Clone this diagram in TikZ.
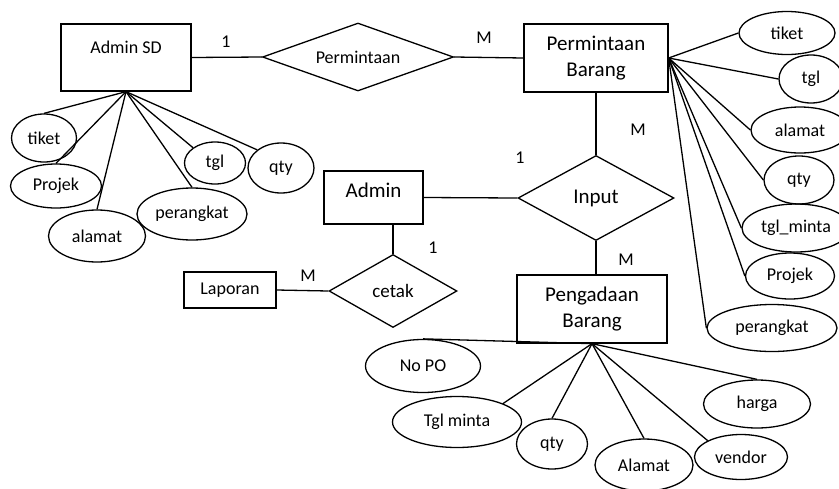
\documentclass[tikz,border=0pt]{standalone}
\usepackage{fontspec}
\setmainfont{Carlito}
\usetikzlibrary{shapes.geometric}

\begin{document}
\begin{tikzpicture}[x=1pt, y=-1pt, line width=1.3pt,
    entitas/.style={draw, rectangle, inner sep=0pt, align=center, font=\fontsize{21}{26}\selectfont},
    relasi/.style={draw, diamond, inner sep=0pt, font=\fontsize{21}{26}\selectfont},
    atribut/.style={draw, ellipse, inner sep=0pt, font=\fontsize{18}{22}\selectfont},
    kard/.style={font=\fontsize{18}{22}\selectfont}]
  \useasboundingbox (0,0) rectangle (839,488);

  % entitas
  \node[entitas, minimum width=130pt, minimum height=67pt, text height=13pt, text depth=22pt,
        font=\fontsize{18}{22}\selectfont] (adminsd) at (126,57.5) {Admin SD};
  \node[entitas, minimum width=144pt, minimum height=68pt] (pb) at (596,58) {Permintaan\\Barang};
  \node[entitas, minimum width=99pt, minimum height=53pt, text height=15pt, text depth=15pt] (admin) at (373.5,197.5) {Admin};
  \node[entitas, minimum width=92pt, minimum height=36pt, font=\fontsize{18}{22}\selectfont] (laporan) at (230,290) {Laporan};
  \node[entitas, minimum width=150pt, minimum height=68pt] (pg) at (592,309) {Pengadaan\\Barang};

  % relasi
  \node[relasi, aspect=2.8, minimum width=191pt, minimum height=68pt, font=\fontsize{18}{22}\selectfont] (minta) at (358,57) {Permintaan};
  \node[relasi, aspect=1.8, minimum width=156pt, minimum height=85pt] (input) at (596,198) {Input};
  \node[relasi, aspect=1.75, minimum width=128pt, minimum height=73pt, font=\fontsize{19}{22}\selectfont] (cetak) at (393,291) {cetak};

  \draw (adminsd.east) -- (minta.west);
  \draw (minta.east) -- (pb.west);
  \draw (pb.south) -- (input.north);
  \draw (admin.east) -- (input.west);
  \draw (cetak.north) -- (cetak.north |- admin.south);
  \draw (cetak.west) -- (laporan.east);
  \draw (input.south) -- (input.south |- pg.north);

  % kardinalitas
  \node[kard] (k1) at (226,42) {1};
  \node[kard] (k2) at (484,38) {M};
  \node[kard] (k3) at (638,130) {M};
  \node[kard] (k4) at (520,158) {1};
  \node[kard] (k5) at (433,248) {1};
  \node[kard] (k6) at (308,276) {M};
  \node[kard] (k7) at (626,260) {M};

  % atribut Admin SD
  \node[atribut, minimum width=65pt, minimum height=48pt] (tiket1) at (44,138) {tiket};
  \node[atribut, minimum width=91pt, minimum height=44pt] (projek1) at (56,186) {Projek};
  \node[atribut, minimum width=97pt, minimum height=52pt] (alamat1) at (97,236) {alamat};
  \node[atribut, minimum width=110pt, minimum height=52pt] (perangkat1) at (192,214) {perangkat};
  \node[atribut, minimum width=61pt, minimum height=42pt] (tgl1) at (215,163) {tgl};
  \node[atribut, minimum width=66pt, minimum height=50pt] (qty1) at (281,168) {qty};
  \foreach \a/\p in {tiket1/north, projek1/north, alamat1/north, perangkat1/north, tgl1/north west, qty1/north west}
    \draw (adminsd.south) -- (\a.\p);

  % atribut Permintaan Barang
  \node[atribut, minimum width=96pt, minimum height=43pt] (tiket2) at (787,33) {tiket};
  \node[atribut, minimum width=64pt, minimum height=48pt] (tgl2) at (811,79) {tgl};
  \node[atribut, minimum width=98pt, minimum height=46pt] (alamat2) at (800,130) {alamat};
  \node[atribut, minimum width=70pt, minimum height=48pt] (qty2) at (799,180) {qty};
  \node[atribut, minimum width=108pt, minimum height=48pt] (tglminta2) at (796,228) {tgl\_minta};
  \node[atribut, minimum width=89pt, minimum height=46pt] (projek2) at (790,276) {Projek};
  \node[atribut, minimum width=130pt, minimum height=47pt] (perangkat2) at (772,328) {perangkat};
  \foreach \a in {tiket2, tgl2, alamat2, qty2, tglminta2, projek2, perangkat2}
    \draw (pb.east) -- (\a.west);

  % atribut Pengadaan Barang
  \node[atribut, minimum width=115pt, minimum height=53pt] (nopo3) at (423,366) {No PO};
  \node[atribut, minimum width=129pt, minimum height=51pt] (tglminta3) at (457,422) {Tgl minta};
  \node[atribut, minimum width=71pt, minimum height=50pt] (qty3) at (552,444) {qty};
  \node[atribut, minimum width=98pt, minimum height=52pt] (alamat3) at (644,465) {Alamat};
  \node[atribut, minimum width=93pt, minimum height=45pt] (vendor3) at (741,457) {vendor};
  \node[atribut, minimum width=107pt, minimum height=48pt] (harga3) at (757,404) {harga};
  \foreach \a/\p in {nopo3/north, tglminta3/north east, qty3/north, alamat3/north, vendor3/north west, harga3/north}
    \draw (pg.south) -- (\a.\p);
\end{tikzpicture}
\end{document}
